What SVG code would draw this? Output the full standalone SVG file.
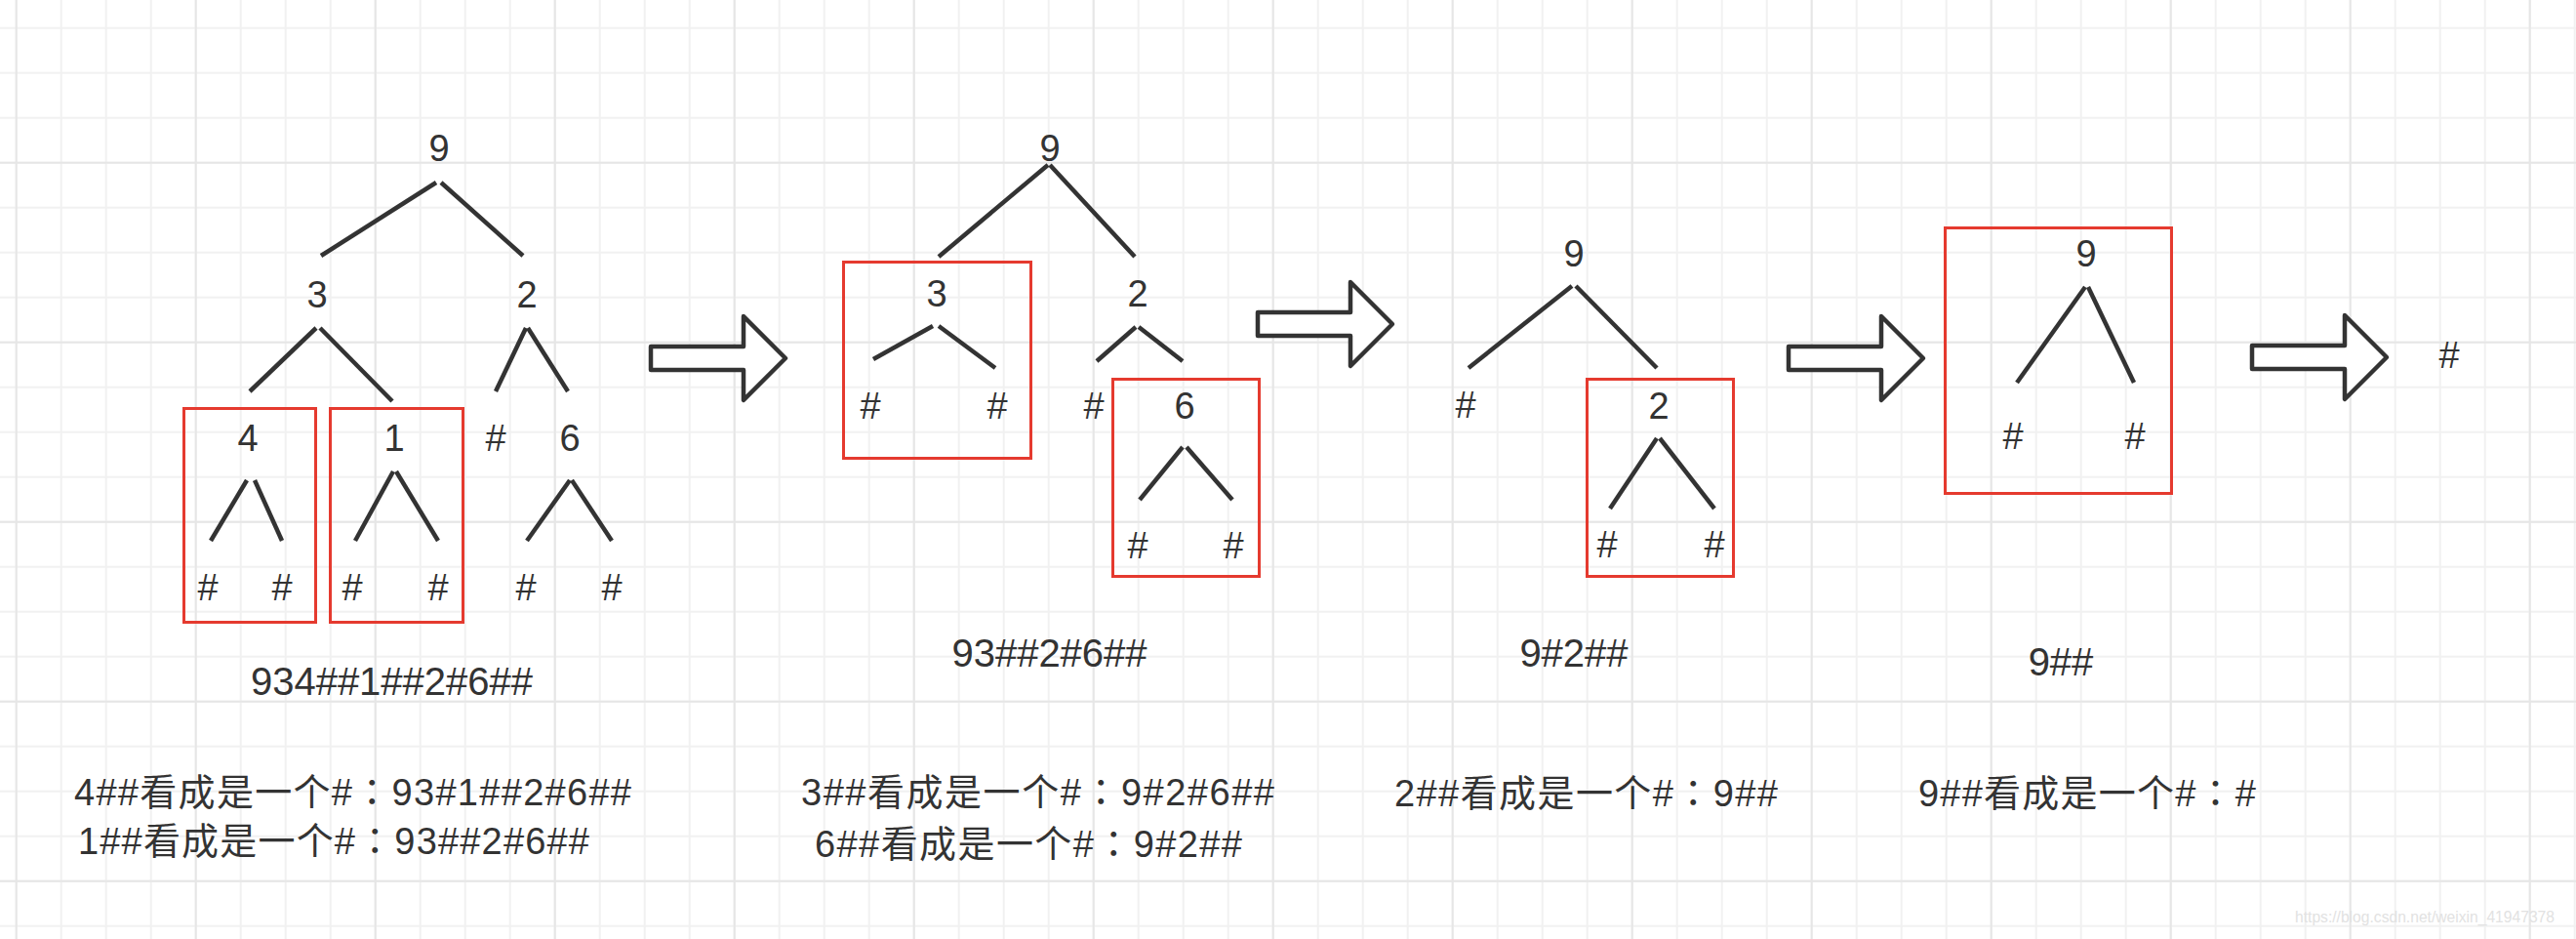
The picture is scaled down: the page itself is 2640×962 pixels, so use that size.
<svg xmlns="http://www.w3.org/2000/svg" width="2640" height="962" viewBox="0 0 2640 962">
<style>
.t{font-family:"Liberation Sans","Noto Sans CJK SC",sans-serif;fill:#333;}
.n{font-size:38px;text-anchor:middle;}
.m{font-size:40px;text-anchor:middle;}
.b{font-size:38px;}
.c{font-family:"Noto Sans CJK TC","Noto Sans CJK SC",sans-serif;}
.e{stroke:#333;stroke-width:4.5;fill:none;}
.box{stroke:#e53a2f;stroke-width:3;fill:none;}
.arr{stroke:#333;stroke-width:4.5;fill:#fff;stroke-linejoin:round;}
.wm{font-family:"Liberation Sans",sans-serif;font-size:17px;fill:#e2e2e2;}
</style>
<defs>
<pattern id="gmin" patternUnits="userSpaceOnUse" x="15.7" y="27.7" width="46" height="46">
<rect x="0" y="0" width="2" height="46" fill="#f1f1f1"/>
<rect x="0" y="0" width="46" height="2" fill="#f1f1f1"/>
</pattern>
<pattern id="gmaj" patternUnits="userSpaceOnUse" x="15.7" y="165.7" width="184" height="184">
<rect x="0" y="0" width="2" height="184" fill="#e6e6e6"/>
<rect x="0" y="0" width="184" height="2" fill="#e6e6e6"/>
</pattern>
<path id="arrow" d="M0,-12 H95 V-43 L138,0 L95,43 V12 H0 Z"/>
</defs>
<rect width="2640" height="962" fill="#fff"/>
<rect width="2640" height="962" fill="url(#gmin)"/>
<rect width="2640" height="962" fill="url(#gmaj)"/>

<g id="connectors">
<line class="e" x1="447" y1="187" x2="329" y2="262"/>
<line class="e" x1="452" y1="187" x2="536" y2="262"/>
<line class="e" x1="324" y1="336" x2="256" y2="401"/>
<line class="e" x1="328" y1="336" x2="402" y2="411"/>
<line class="e" x1="539" y1="336" x2="508" y2="401"/>
<line class="e" x1="541" y1="336" x2="582" y2="401"/>
<line class="e" x1="253" y1="492" x2="216" y2="554"/>
<line class="e" x1="261" y1="492" x2="289" y2="554"/>
<line class="e" x1="403" y1="483" x2="364" y2="554"/>
<line class="e" x1="406" y1="483" x2="449" y2="554"/>
<line class="e" x1="584" y1="492" x2="540" y2="554"/>
<line class="e" x1="586" y1="492" x2="627" y2="554"/>
<line class="e" x1="1074" y1="169" x2="962" y2="263"/>
<line class="e" x1="1076" y1="169" x2="1163" y2="263"/>
<line class="e" x1="956" y1="334" x2="895" y2="368"/>
<line class="e" x1="962" y1="334" x2="1020" y2="377"/>
<line class="e" x1="1164" y1="335" x2="1124" y2="370"/>
<line class="e" x1="1167" y1="335" x2="1212" y2="370"/>
<line class="e" x1="1212" y1="458" x2="1168" y2="512"/>
<line class="e" x1="1216" y1="458" x2="1263" y2="512"/>
<line class="e" x1="1611" y1="293" x2="1505" y2="377"/>
<line class="e" x1="1615" y1="293" x2="1698" y2="377"/>
<line class="e" x1="1698" y1="449" x2="1650" y2="521"/>
<line class="e" x1="1701" y1="449" x2="1757" y2="521"/>
<line class="e" x1="2137" y1="294" x2="2067" y2="392"/>
<line class="e" x1="2140" y1="294" x2="2187" y2="392"/>
</g>

<g id="boxes">
<rect id="box1" class="box" x="188.5" y="418.5" width="135" height="219"/>
<rect id="box2" class="box" x="338.5" y="418.5" width="136" height="219"/>
<rect id="box3" class="box" x="864.5" y="268.5" width="192" height="201"/>
<rect id="box4" class="box" x="1140.5" y="388.5" width="150" height="202"/>
<rect id="box5" class="box" x="1626.5" y="388.5" width="150" height="202"/>
<rect id="box6" class="box" x="1993.5" y="233.5" width="232" height="272"/>
</g>

<g id="arrows">
<use id="arrow1" href="#arrow" class="arr" transform="translate(667,367)"/>
<use id="arrow2" href="#arrow" class="arr" transform="translate(1289,332)"/>
<use id="arrow3" href="#arrow" class="arr" transform="translate(1833,367)"/>
<use id="arrow4" href="#arrow" class="arr" transform="translate(2308,366)"/>
</g>

<g id="tree1">
<g id="t1-9"><text class="t n" x="450" y="165">9</text></g>
<g id="t1-3"><text class="t n" x="325" y="315">3</text></g>
<g id="t1-2"><text class="t n" x="540" y="315">2</text></g>
<g id="t1-4"><text class="t n" x="254" y="462">4</text></g>
<g id="t1-1"><text class="t n" x="404" y="462">1</text></g>
<g id="t1-h1"><text class="t n" x="508" y="462">#</text></g>
<g id="t1-6"><text class="t n" x="584" y="462">6</text></g>
<g id="t1-h2"><text class="t n" x="213" y="615">#</text></g>
<g id="t1-h3"><text class="t n" x="289" y="615">#</text></g>
<g id="t1-h4"><text class="t n" x="361" y="615">#</text></g>
<g id="t1-h5"><text class="t n" x="449" y="615">#</text></g>
<g id="t1-h6"><text class="t n" x="539" y="615">#</text></g>
<g id="t1-h7"><text class="t n" x="627" y="615">#</text></g>
</g>

<g id="tree2">
<g id="t2-9"><text class="t n" x="1076" y="165">9</text></g>
<g id="t2-3"><text class="t n" x="960" y="314">3</text></g>
<g id="t2-2"><text class="t n" x="1166" y="314">2</text></g>
<g id="t2-h1"><text class="t n" x="892" y="429">#</text></g>
<g id="t2-h2"><text class="t n" x="1022" y="429">#</text></g>
<g id="t2-h3"><text class="t n" x="1121" y="429">#</text></g>
<g id="t2-6"><text class="t n" x="1214" y="429">6</text></g>
<g id="t2-h4"><text class="t n" x="1166" y="572">#</text></g>
<g id="t2-h5"><text class="t n" x="1264" y="572">#</text></g>
</g>

<g id="tree3">
<g id="t3-9"><text class="t n" x="1613" y="273">9</text></g>
<g id="t3-h1"><text class="t n" x="1502" y="428">#</text></g>
<g id="t3-2"><text class="t n" x="1700" y="429">2</text></g>
<g id="t3-h2"><text class="t n" x="1647" y="571">#</text></g>
<g id="t3-h3"><text class="t n" x="1757" y="571">#</text></g>
</g>

<g id="tree4">
<g id="t4-9"><text class="t n" x="2138" y="273">9</text></g>
<g id="t4-h1"><text class="t n" x="2063" y="460">#</text></g>
<g id="t4-h2"><text class="t n" x="2188" y="460">#</text></g>
</g>

<g id="tree5">
<g id="t5-h"><text class="t n" x="2510" y="377">#</text></g>
</g>

<g id="sequences">
<text class="t m" x="401.5" y="712">934##1##2#6##</text>
<text class="t m" x="1075.5" y="683">93##2#6##</text>
<text class="t m" x="1613" y="683">9#2##</text>
<text class="t m" x="2112" y="692">9##</text>
</g>

<g id="notes">
<text class="t b" x="76" y="825" textLength="571" lengthAdjust="spacing">4##看成是一个#<tspan class="c">：</tspan>93#1##2#6##</text>
<text class="t b" x="80" y="875" textLength="524" lengthAdjust="spacing">1##看成是一个#<tspan class="c">：</tspan>93##2#6##</text>
<text class="t b" x="821" y="825" textLength="485" lengthAdjust="spacing">3##看成是一个#<tspan class="c">：</tspan>9#2#6##</text>
<text class="t b" x="835" y="878" textLength="438" lengthAdjust="spacing">6##看成是一个#<tspan class="c">：</tspan>9#2##</text>
<text class="t b" x="1429" y="826" textLength="393" lengthAdjust="spacing">2##看成是一个#<tspan class="c">：</tspan>9##</text>
<text class="t b" x="1966" y="826" textLength="346" lengthAdjust="spacing">9##看成是一个#<tspan class="c">：</tspan>#</text>
</g>

<text class="wm" x="2352" y="945" textLength="266" lengthAdjust="spacingAndGlyphs">https://blog.csdn.net/weixin_41947378</text>
</svg>
